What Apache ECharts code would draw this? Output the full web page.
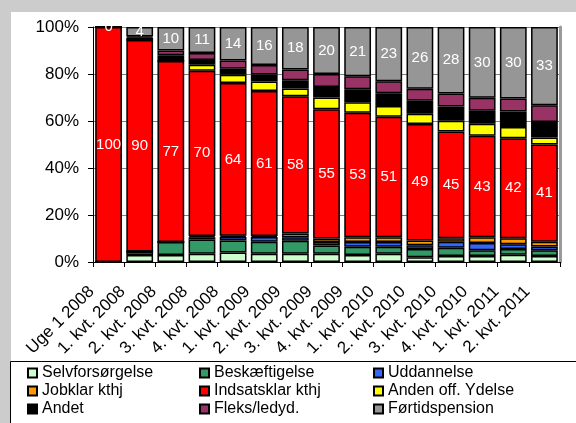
<!DOCTYPE html>
<html>
<head>
<meta charset="utf-8">
<script src="https://cdn.jsdelivr.net/npm/echarts@6/dist/echarts.min.js"></script>
<style>html,body{margin:0;padding:0;background:#cccccc;}#c{width:576px;height:423px;}</style>
</head>
<body>
<div id="c"></div>
<script>
const categories = ['Uge 1 2008','1. kvt. 2008','2. kvt. 2008','3. kvt. 2008','4. kvt. 2008','1. kvt. 2009','2. kvt. 2009','3. kvt. 2009','4. kvt. 2009','1. kvt. 2010','2. kvt. 2010','3. kvt. 2010','4. kvt. 2010','1. kvt. 2011','2. kvt. 2011'];
const selvforsorgelse = [0,3,3,3.5,4,3.5,3.5,3.5,3,3.5,2,2.5,2.5,3,2.5];
const beskaeftigelse = [0,1.5,5.5,6,5,5,5.5,3.5,3.5,3,3.5,3.5,2.5,2.5,2.5];
const uddannelse = [0,0,0,1,1.5,2,1.5,1.5,2,2,1.5,2.5,3,2,1.5];
const jobklar = [0,0,0,0.5,0.5,0.5,1.5,1.5,2,2,2,1.5,2.5,2.5,2];
const indsatsklar = [100,90,77,70,64,61,58,55,53,51,49,45,43,42,41];
const andenOff = [0,0,0,2.5,3.5,4,3.3,5,4.5,4.5,4.3,4.5,5,4.7,3];
const andet = [0,1,2.5,2,2.5,3,3.5,4.5,5.5,5.5,5.5,6,5.5,6.5,6.5];
const fleks = [0,0.5,2,3,3.5,4,4.5,5.5,5.5,5,5,5.5,5.5,5.5,7];
const fortid = [0,4,10,11,14,16,18,20,21,23,26,28,30,30,33];
const yTicks = [0,20,40,60,80,100];

const seriesDefs = [
  {name:'Selvforsørgelse', data:selvforsorgelse, color:'#CCFFCC'},
  {name:'Beskæftigelse', data:beskaeftigelse, color:'#339966'},
  {name:'Uddannelse', data:uddannelse, color:'#3366FF'},
  {name:'Jobklar kthj', data:jobklar, color:'#FF9900'},
  {name:'Indsatsklar kthj', data:indsatsklar, color:'#FF0000', label:true},
  {name:'Anden off. Ydelse', data:andenOff, color:'#FFFF00'},
  {name:'Andet', data:andet, color:'#000000'},
  {name:'Fleks/ledyd.', data:fleks, color:'#993366'},
  {name:'Førtidspension', data:fortid, color:'#969696', label:true}
];
const totals = categories.map((c,i)=>seriesDefs.reduce((s,d)=>s+d.data[i],0));
const FONT = '"Liberation Sans", Arial, sans-serif';

const series = seriesDefs.map(d=>({
  name:d.name, type:'bar', stack:'all',
  barCategoryGap:'14%',
  itemStyle:{color:d.color, borderColor:'#000', borderWidth:1.5},
  label: d.label ? {show:true, position:'inside', color:'#fff', fontSize:15, fontFamily:FONT,
    formatter:p=>String(Math.round(d.data[p.dataIndex]))} : {show:false},
  emphasis:{disabled:true},
  data:d.data.map((v,i)=>v/totals[i]*100)
}));

const legendBase = {orient:'vertical', itemWidth:9, itemHeight:9, itemGap:2, icon:'rect', padding:0,
  textStyle:{fontSize:16, lineHeight:16, fontFamily:FONT, color:'#000'}, selectedMode:false, top:365, height:60};

const chart = echarts.init(document.getElementById('c'), null, {renderer:'canvas'});
chart.setOption({
  backgroundColor:'#cccccc',
  animation:false,
  graphic:{elements:[
    {type:'rect', z:-10, shape:{x:11,y:12,width:565,height:349}, style:{fill:'#fff'}},
    {type:'rect', z:-10, shape:{x:10.5,y:361.5,width:570,height:70}, style:{fill:'#fff', stroke:'#000', lineWidth:1}}
  ]},
  grid:{left:93, right:16, top:27, bottom:161},
  legend:[
    Object.assign({left:27, data:['Selvforsørgelse','Jobklar kthj','Andet']}, legendBase),
    Object.assign({left:199, data:['Beskæftigelse','Indsatsklar kthj','Fleks/ledyd.']}, legendBase),
    Object.assign({left:373, data:['Uddannelse','Anden off. Ydelse','Førtidspension']}, legendBase)
  ],
  xAxis:{type:'category', data:categories,
    axisLine:{lineStyle:{color:'#000', width:1}},
    axisTick:{show:true, length:5, lineStyle:{color:'#000'}},
    axisLabel:{rotate:45, fontSize:17, fontFamily:FONT, color:'#000', margin:10, interval:0, padding:[0,24,0,0]}},
  yAxis:[{type:'value', min:0, max:100, interval:20,
    axisLine:{show:true, lineStyle:{color:'#000', width:1}},
    axisTick:{show:true, length:5, lineStyle:{color:'#000'}},
    axisLabel:{fontSize:17, fontFamily:FONT, color:'#000', margin:14, formatter:v=>yTicks.includes(v)?v+'%':''},
    splitLine:{show:true, lineStyle:{color:'#808080', width:1}}},
   {type:'value', min:0, max:100, position:'right',
    axisLine:{show:true, lineStyle:{color:'#9a9a9a', width:3}},
    axisTick:{show:false}, axisLabel:{show:false}, splitLine:{show:false}}],
  series:series
});
</script>
</body>
</html>
